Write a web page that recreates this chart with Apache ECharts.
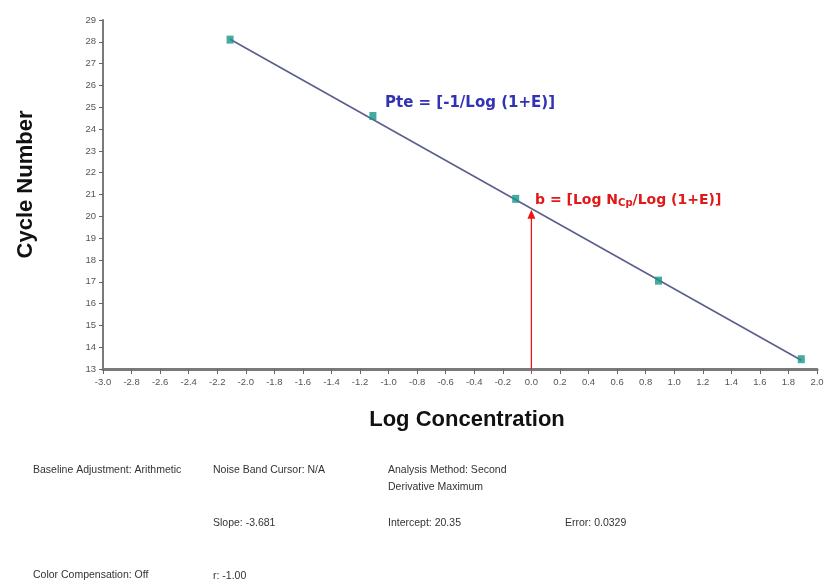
<!DOCTYPE html>
<html>
<head>
<meta charset="utf-8">
<script src="https://cdn.jsdelivr.net/npm/echarts@6/dist/echarts.min.js"></script>
<style>
  html, body { margin: 0; padding: 0; background: #fff; }
  #chart { width: 830px; height: 580px; }
</style>
</head>
<body>
<div id="chart"></div>
<script>
// Standard curve: log concentration vs. crossing-point cycle number
const logConc = [-2.11, -1.11, -0.11, 0.89, 1.89];
const cycleNumber = [28.1, 24.6, 20.8, 17.05, 13.45];

// Fitted regression line end points
const fitX = [-2.11, 1.89];
const fitY = [28.12, 13.4];

// Intercept at log concentration 0
const interceptX = 0;
const interceptY = 20.35;

const xTicks = { min: -3.0, max: 2.0, step: 0.2 };
const yTicks = { min: 13, max: 29, step: 1 };

const infoTexts = [
  { text: 'Baseline Adjustment: Arithmetic', x: 33, y: 465 },
  { text: 'Noise Band Cursor: N/A', x: 213, y: 465 },
  { text: 'Analysis Method: Second', x: 388, y: 465 },
  { text: 'Derivative Maximum', x: 388, y: 482 },
  { text: 'Slope: -3.681', x: 213, y: 518 },
  { text: 'Intercept: 20.35', x: 388, y: 518 },
  { text: 'Error: 0.0329', x: 565, y: 518 },
  { text: 'Color Compensation: Off', x: 33, y: 570 },
  { text: 'r: -1.00', x: 213, y: 571 }
];

const chart = echarts.init(document.getElementById('chart'), null, { renderer: 'canvas' });

const points = logConc.map((x, i) => [x, cycleNumber[i]]);
const fitLine = fitX.map((x, i) => [x, fitY[i]]);
const interceptLine = [[interceptX, yTicks.min], [interceptX, interceptY - 0.25]];

const annFont = '"DejaVu Sans", "Noto Sans", sans-serif';
const axisFont = '"Liberation Sans", Arial, sans-serif';
const red = '#f01414';

chart.setOption({
  animation: false,
  backgroundColor: '#ffffff',
  grid: { left: 103, right: 13, top: 20, bottom: 211, containLabel: false },
  xAxis: {
    type: 'value',
    min: xTicks.min,
    max: xTicks.max,
    interval: xTicks.step,
    name: 'Log Concentration',
    nameLocation: 'middle',
    nameGap: 40,
    nameTextStyle: { fontFamily: axisFont, fontSize: 22, fontWeight: 'bold', color: '#111', padding: [0, 0, 0, 14] },
    axisLine: { show: true, onZero: false, lineStyle: { color: '#7a7a7a', width: 3 } },
    axisTick: { show: true, inside: false, length: 5, lineStyle: { color: '#666', width: 1 } },
    axisLabel: {
      margin: 8,
      fontFamily: axisFont,
      fontSize: 9.5,
      color: '#555',
      formatter: v => v.toFixed(1)
    },
    splitLine: { show: false }
  },
  yAxis: {
    type: 'value',
    min: yTicks.min,
    max: yTicks.max,
    interval: yTicks.step,
    name: 'Cycle Number',
    nameLocation: 'middle',
    nameGap: 66,
    nameRotate: 90,
    nameTextStyle: { fontFamily: axisFont, fontSize: 22, fontWeight: 'bold', color: '#111', padding: [0, 0, 0, 20] },
    axisLine: { show: true, onZero: false, lineStyle: { color: '#7a7a7a', width: 2 } },
    axisTick: { show: true, inside: false, length: 4, lineStyle: { color: '#666', width: 1 } },
    axisLabel: {
      margin: 7,
      fontFamily: axisFont,
      fontSize: 9.5,
      color: '#555'
    },
    splitLine: { show: false }
  },
  series: [
    {
      name: 'fit',
      type: 'line',
      data: fitLine,
      symbol: 'none',
      lineStyle: { color: '#5b5f8e', width: 1.6 },
      z: 2
    },
    {
      // vertical pointer from the axis up to the intercept
      name: 'intercept',
      type: 'line',
      data: interceptLine,
      symbol: ['none', 'triangle'],
      showSymbol: true,
      showAllSymbol: true,
      symbolSize: 0,
      lineStyle: { color: red, width: 1.3 },
      z: 2,
      markPoint: {
        silent: true,
        symbol: 'triangle',
        symbolSize: [8, 9],
        itemStyle: { color: red },
        label: { show: false },
        data: [{ coord: [interceptX, interceptY - 0.25] }]
      }
    },
    {
      name: 'standards',
      type: 'scatter',
      data: points,
      symbol: 'rect',
      symbolSize: [7, 8],
      itemStyle: { color: '#17968a' },
      z: 3
    }
  ],
  graphic: [
    {
      type: 'text',
      left: 385,
      top: 96,
      style: {
        text: 'Pte = [-1/Log (1+E)]',
        font: 'bold 15px ' + annFont,
        fill: '#3232b4'
      }
    },
    {
      type: 'text',
      left: 535,
      top: 193,
      style: {
        text: '{m|b = [Log N}{s|Cp}{m|/Log (1+E)]}',
        rich: {
          m: { font: 'bold 14px ' + annFont, fill: '#e01818', color: '#e01818' },
          s: { font: 'bold 10px ' + annFont, fill: '#e01818', color: '#e01818', verticalAlign: 'bottom', padding: [6, 0, 0, 0] }
        }
      }
    }
  ].concat(infoTexts.map(t => ({
    type: 'text',
    left: t.x,
    top: t.y,
    style: {
      text: t.text,
      font: '10.5px "Liberation Sans", Arial, sans-serif',
      fill: '#333'
    }
  })))
});
</script>
</body>
</html>
